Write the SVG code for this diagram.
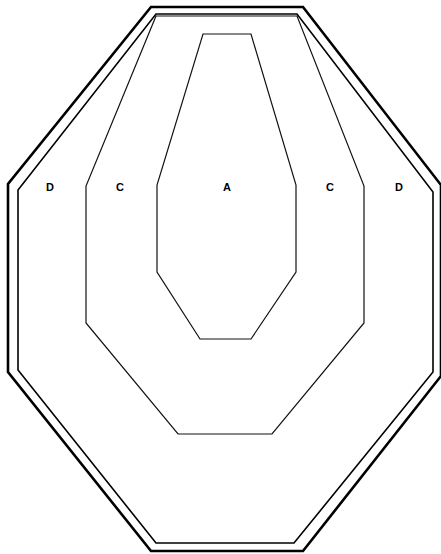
<svg xmlns="http://www.w3.org/2000/svg" width="441" height="554" viewBox="0 0 441 554">
<style>
.outer{fill:none;stroke:#000;stroke-width:2.6;stroke-linejoin:miter}
.inner{fill:none;stroke:#000;stroke-width:1.6}
.zone{fill:none;stroke:#111;stroke-width:1.2}
.lbl{font-family:"Liberation Sans",Arial,sans-serif;font-weight:bold;font-size:11px;text-anchor:middle;fill:#000}
</style>
<rect width="441" height="554" fill="#fff"/>
<g id="outer-border"><polygon class="outer" points="151,7 303,7 441,185 441,376 303,551 151,551 8,372 8,184"/></g>
<g id="inner-border"><polygon class="inner" points="156,14 297,14 433,192 433,372 294,543 156,543 18,370 18,190"/></g>
<g id="zone-c"><polygon class="zone" points="156,16 86,186 86,323 178,434 272,434 364,323 364,186 297,16"/></g>
<g id="zone-a"><polygon class="zone" points="203,34 251,34 296,185 296,272 251,339 200,339 157,272 157,185"/></g>
<g id="labels">
<text class="lbl" x="50" y="191">D</text>
<text class="lbl" x="120" y="191">C</text>
<text class="lbl" x="227" y="191">A</text>
<text class="lbl" x="330" y="191">C</text>
<text class="lbl" x="399" y="191">D</text>
</g>
<g id="connectors"></g>
</svg>
